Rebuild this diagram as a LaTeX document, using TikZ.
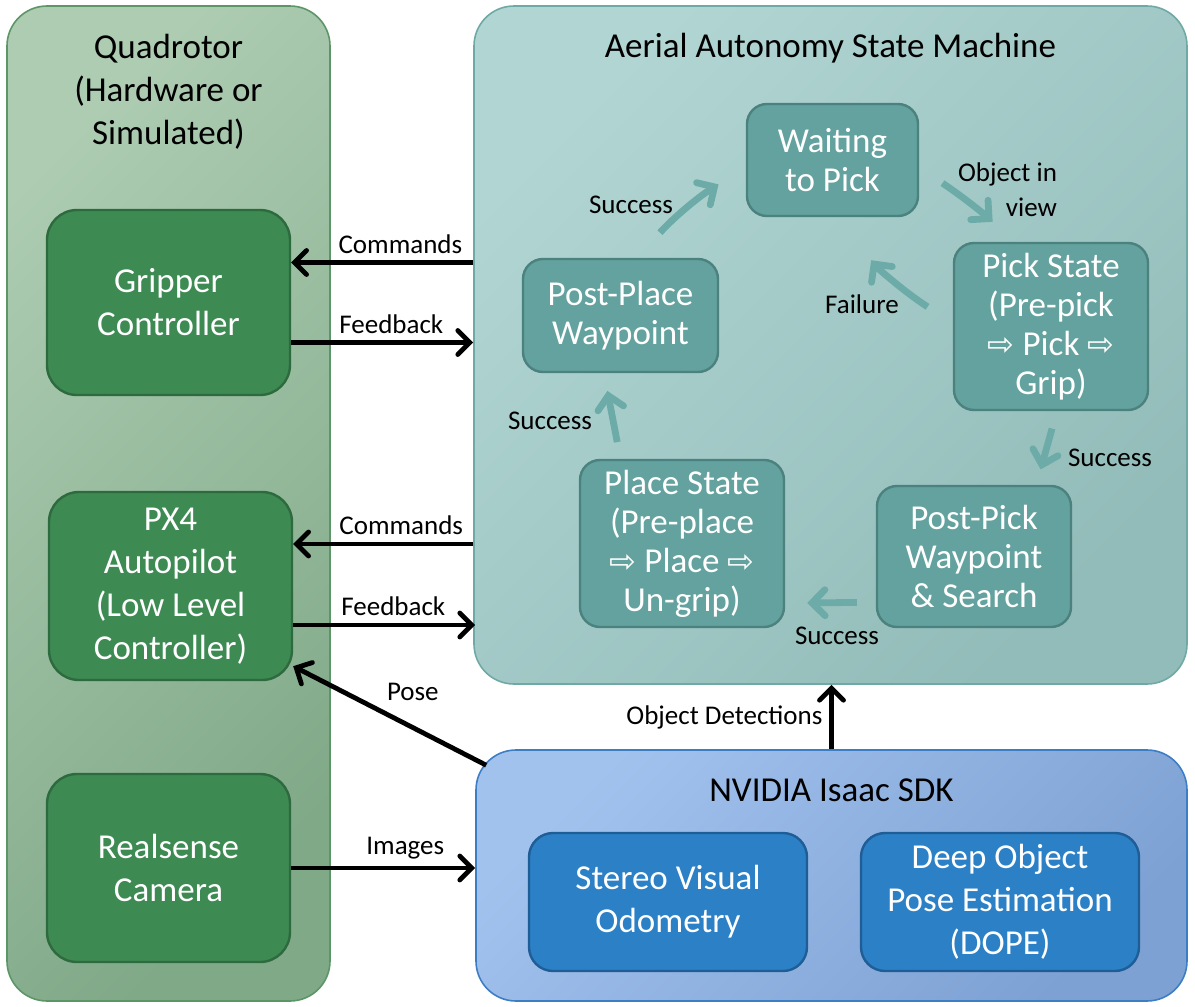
\documentclass[tikz,border=0pt]{standalone}
\usepackage{fontspec}
\setmainfont{Carlito}
\newfontfamily\symfont{DejaVu Sans}
\usepackage{tikz}
\usetikzlibrary{positioning, arrows.meta, calc}
\definecolor{QuadTop}{HTML}{ADCCB2}
\definecolor{QuadBottom}{HTML}{80A988}
\definecolor{QuadLine}{HTML}{5C9566}
\definecolor{GreenBox}{HTML}{3E8A53}
\definecolor{GreenLine}{HTML}{2D6A3E}
\definecolor{SMTop}{HTML}{B1D5D3}
\definecolor{SMBottom}{HTML}{92BCB9}
\definecolor{SMLine}{HTML}{6FA9A5}
\definecolor{StateFill}{HTML}{63A29E}
\definecolor{StateLine}{HTML}{4B817E}
\definecolor{FlowTeal}{HTML}{6CABA7}
\definecolor{SDKTop}{HTML}{A2C2EE}
\definecolor{SDKBottom}{HTML}{7DA1D3}
\definecolor{SDKLine}{HTML}{3D7DC5}
\definecolor{BlueBox}{HTML}{2B80C6}
\definecolor{BlueLine}{HTML}{1E5D96}
\newcommand{\thento}{{\symfont\fontsize{16}{16}\selectfont ⇨}}

\begin{document}
\begin{tikzpicture}[x=0.5pt, y=-0.5pt,
    outerbox/.style={draw, line width=0.8pt, rounded corners=20pt, shading angle=45},
    greenbox/.style={draw=GreenLine, fill=GreenBox, line width=1.2pt, rounded corners=15pt,
      text=white, align=center, font=\fontsize{17.5}{21.5}\selectfont},
    statebox/.style={draw=StateLine, fill=StateFill, line width=1.2pt, rounded corners=10pt,
      text=white, align=center, font=\fontsize{17.5}{19.5}\selectfont},
    bluebox/.style={draw=BlueLine, fill=BlueBox, line width=1.2pt, rounded corners=12pt,
      text=white, align=center, font=\fontsize{17.5}{21.5}\selectfont},
    titletext/.style={align=center, font=\fontsize{17.5}{21.5}\selectfont},
    smalltext/.style={align=center, font=\fontsize{13.5}{17.5}\selectfont},
    dataflow/.style={line width=2.4pt, -{Straight Barb[length=6pt, width=12pt, line cap=round]}},
    stateflow/.style={FlowTeal, line width=3.4pt, -{Straight Barb[length=6.5pt, width=13pt, line cap=round]}}
  ]
    \useasboundingbox (0,0) rectangle (1195,1007);

    % Quadrotor
    \node[outerbox, draw=QuadLine, top color=QuadTop, bottom color=QuadBottom, shading angle=45,
      minimum width=161.5pt, minimum height=497.5pt] (quad) at (168.5,503.5) {};
    \node[titletext] (quadtitle) at (168.5,92) {Quadrotor\\(Hardware or\\Simulated)};
    \node[greenbox, minimum width=121.5pt, minimum height=92.5pt] (grip) at (168.5,302.5) {Gripper\\Controller};
    \node[greenbox, minimum width=121.5pt, minimum height=94pt] (px) at (170.5,586) {PX4\\Autopilot\\(Low Level\\Controller)};
    \node[greenbox, minimum width=121.5pt, minimum height=94pt] (cam) at (168.5,868) {Realsense\\Camera};

    % State machine
    \node[outerbox, draw=SMLine, top color=SMTop, bottom color=SMBottom, shading angle=45,
      minimum width=356.5pt, minimum height=339pt] (sm) at (830.5,345) {};
    \node[titletext] (smtitle) at (830.5,48) {Aerial Autonomy State Machine};
    \node[statebox, minimum width=85.5pt, minimum height=56pt] (wait) at (832.5,160) {Waiting\\to Pick};
    \node[statebox, minimum width=97.5pt, minimum height=56.5pt] (postplace) at (620.5,315.5) {Post-Place\\Waypoint};
    \node[statebox, minimum width=97pt, minimum height=83.5pt] (pick) at (1051,326.5) {Pick State\\(Pre-pick\\\thento{} Pick \thento\\Grip)};
    \node[statebox, minimum width=97pt, minimum height=70.5pt] (postpick) at (974,556.5) {Post-Pick\\Waypoint\\\& Search};
    \node[statebox, minimum width=102pt, minimum height=83.5pt] (place) at (682,543.5) {Place State\\(Pre-place\\\thento{} Place \thento\\Un-grip)};

    % Transitions
    \draw[stateflow, shorten <=17pt, shorten >=16pt] (postplace.74) to[bend left=8] (wait.185);
    \draw[stateflow, shorten <=14pt, shorten >=15pt] (wait.-5) to[bend left=4] (pick.113);
    \draw[stateflow, shorten <=15pt, shorten >=27pt] (pick.178) to[bend left=10] (wait.276);
    \draw[stateflow, shorten <=9pt, shorten >=8pt] (pick.274) -- (postpick.49);
    \draw[stateflow, shorten <=9.5pt, shorten >=11pt] (postpick.205) -- (place.330);
    \draw[stateflow, shorten <=8.5pt, shorten >=9pt] (place.126.6) -- (postplace.254.7);
    \node[smalltext] (lsucc1) at (631,205) {Success};
    \node[smalltext, align=right] (lview) at (1007.5,190) {Object in\\view};
    \node[smalltext] (lfail) at (862,304) {Failure};
    \node[smalltext] (lsucc2) at (1110,458) {Success};
    \node[smalltext] (lsucc3) at (837,636) {Success};
    \node[smalltext] (lsucc4) at (550,421) {Success};

    % NVIDIA Isaac SDK
    \node[outerbox, draw=SDKLine, top color=SDKTop, bottom color=SDKBottom, shading angle=45,
      minimum width=355.5pt, minimum height=125.5pt] (sdk) at (831.5,875.5) {};
    \node[titletext] (sdktitle) at (831.5,790) {NVIDIA Isaac SDK};
    \node[bluebox, minimum width=139pt, minimum height=69pt] (svo) at (668,902) {Stereo Visual\\Odometry};
    \node[bluebox, minimum width=139pt, minimum height=69pt] (dope) at (1000,902) {Deep Object\\Pose Estimation\\(DOPE)};

    % Data links
    \coordinate (gripcmd) at ([yshift=20pt]grip.east);
    \coordinate (gripfb) at ([yshift=-20pt]grip.east);
    \coordinate (pxcmd) at ([yshift=21pt]px.east);
    \coordinate (pxfb) at ([yshift=-19.5pt]px.east);
    \draw[dataflow] (sm.west |- gripcmd) -- node[smalltext, above, pos=0.4] (lcmd1) {Commands} (gripcmd);
    \draw[dataflow] (gripfb) -- node[smalltext, above, pos=0.55] (lfb1) {Feedback} (sm.west |- gripfb);
    \draw[dataflow] (sm.west |- pxcmd) -- node[smalltext, above, pos=0.4] (lcmd2) {Commands} (pxcmd);
    \draw[dataflow] (pxfb) -- node[smalltext, above, pos=0.55] (lfb2) {Feedback} (sdk.west |- pxfb);
    \draw[dataflow] (cam.east) -- node[smalltext, above, pos=0.62] (limg) {Images} (sdk.west |- cam.east);
    \draw[dataflow] ([xshift=5.5pt, yshift=-8pt]sdk.north west) -- node[smalltext, pos=0.38, above=9pt] (lpose) {Pose} ([yshift=7.5pt]px.south east);
    \draw[dataflow] (sdk.north) -- node[smalltext, left] (ldet) {Object Detections} (sdk.north |- sm.south);
  \end{tikzpicture}
\end{document}
